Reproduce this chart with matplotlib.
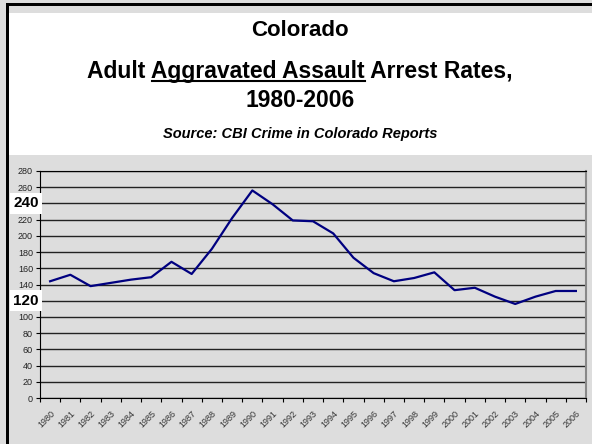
import matplotlib
matplotlib.use("Agg")
import matplotlib.pyplot as plt
from matplotlib.patches import Rectangle
from matplotlib.lines import Line2D

years = [str(y) for y in range(1980, 2007)]
rates = [144, 152, 138, 142, 146, 149, 168, 153, 184, 222, 256, 239, 219, 218,
         203, 173, 154, 144, 148, 155, 133, 136, 125, 116, 125, 132, 132]
y_ticks = list(range(0, 281, 20))
callouts = [240, 120]

plt.rcParams['font.family'] = ['Liberation Sans', 'DejaVu Sans']

W, H = 592, 444
fig = plt.figure(figsize=(W / 100, H / 100), dpi=100)
fig.patch.set_facecolor('#DDDDDD')

# white header panel and black frame lines (pixel coords from top-left)
def px_rect(x0, y0, x1, y1, color):
    fig.patches.append(Rectangle((x0 / W, 1 - y1 / H), (x1 - x0) / W, (y1 - y0) / H,
                                 transform=fig.transFigure, color=color, lw=0, zorder=0))

px_rect(9, 13, W, 155, 'white')
px_rect(6, 3, W, 6, 'black')
px_rect(6, 3, 9, H, 'black')

cx = 300 / W
fig.text(cx, 1 - 30 / H, 'Colorado', ha='center', va='center',
         fontsize=16, fontweight='bold')
line2 = 'Adult Aggravated Assault Arrest Rates,'
t2 = fig.text(cx, 1 - 78 / H, line2, ha='center', va='baseline',
              fontsize=16.5, fontweight='bold')
fig.text(cx, 1 - 107 / H, '1980-2006', ha='center', va='baseline',
         fontsize=16.5, fontweight='bold')
fig.text(cx, 1 - 134 / H, 'Source: CBI Crime in Colorado Reports', ha='center',
         va='center', fontsize=10.5, fontweight='bold', fontstyle='italic')

# underline "Aggravated Assault"
fig.canvas.draw()
r = fig.canvas.get_renderer()
bb = t2.get_window_extent(r)
def text_w(s):
    tt = fig.text(0, 0, s, fontsize=16.5, fontweight='bold')
    w = tt.get_window_extent(r).width
    tt.remove()
    return w
x_start = bb.x0 + text_w('Adult ')
x_end = bb.x0 + text_w('Adult Aggravated Assault')
uy = H - 81
fig.lines.append(Line2D([x_start / W, x_end / W], [uy / H, uy / H],
                        transform=fig.transFigure, color='black', lw=1.5))

ax = fig.add_axes([40 / W, 1 - 398 / H, (586 - 40) / W, (398 - 171) / H])
ax.set_facecolor('#DDDDDD')
x = list(range(len(years)))
ax.plot(x, rates, color='#000080', lw=1.6, zorder=3)

ax.set_xlim(-0.5, len(years) - 0.5)
ax.set_ylim(0, 280)
ax.set_yticks(y_ticks)
ax.set_yticklabels(['' if v in callouts else str(v) for v in y_ticks],
                   fontsize=6.5, color='#222222')
ax.yaxis.grid(True, color='#222222', lw=1)
ax.set_axisbelow(True)

ax.set_xticks([i - 0.5 for i in range(len(years) + 1)])
ax.set_xticklabels([])
ax.set_xticks(x, minor=True)
ax.set_xticklabels(years, minor=True, rotation=45, ha='right',
                   rotation_mode='anchor', fontsize=6.5, color='#333333')
ax.tick_params(axis='x', which='minor', length=0, pad=8)
ax.tick_params(axis='x', which='major', length=3, direction='out')
ax.tick_params(axis='y', length=3, direction='out', pad=2)

for s in ['left', 'bottom', 'top']:
    ax.spines[s].set_color('black')
ax.spines['right'].set_color('#888888')
ax.spines['right'].set_linewidth(1.5)

for v in callouts:
    ypix = 398 - v * (398 - 171) / 280
    fig.text(26 / W, 1 - ypix / H, str(v), ha='center', va='center',
             fontsize=11, fontweight='bold',
             bbox=dict(facecolor='white', edgecolor='none', pad=2.5))

fig.savefig('out.png', dpi=100, facecolor=fig.get_facecolor())
